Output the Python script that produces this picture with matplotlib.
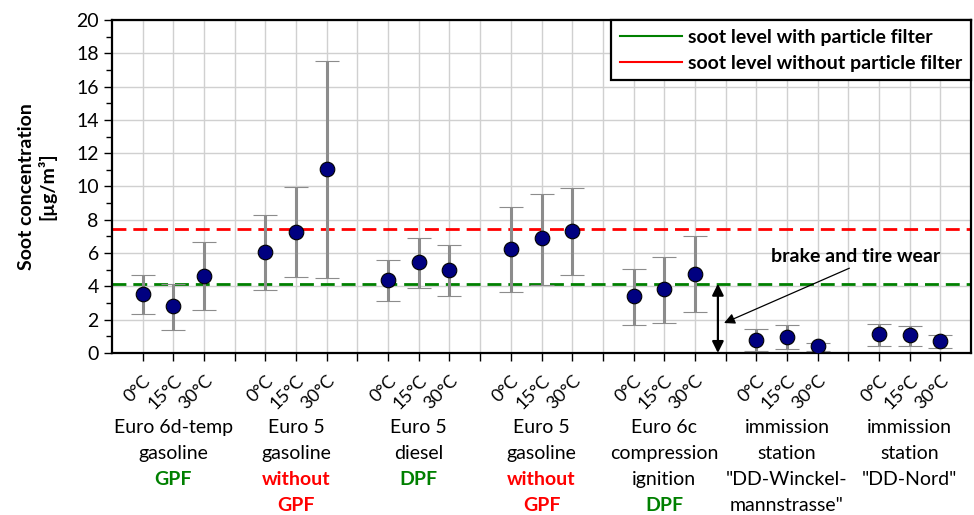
import numpy as np
import matplotlib
matplotlib.use("Agg")
import matplotlib.pyplot as plt
from matplotlib.ticker import MultipleLocator

plt.rcParams['font.family'] = ['Lato', 'DejaVu Sans']

# data (µg/m³)
temps = ["0°C", "15°C", "30°C"]
mean_vals = [3.54, 2.8, 4.64,
             6.06, 7.28, 11.04,
             4.36, 5.44, 4.96,
             6.24, 6.88, 7.3,
             3.4, 3.82, 4.76,
             0.76, 0.96, 0.4,
             1.14, 1.06, 0.72]
upper_vals = [4.7, 4.14, 6.64,
              8.3, 9.96, 17.56,
              5.58, 6.88, 6.46,
              8.76, 9.54, 9.88,
              5.04, 5.78, 7.02,
              1.42, 1.68, 0.58,
              1.76, 1.64, 1.06]
lower_vals = [2.32, 1.36, 2.58,
              3.8, 4.56, 4.5,
              3.1, 3.92, 3.4,
              3.68, 4.1, 4.68,
              1.7, 1.8, 2.46,
              0.12, 0.24, 0.1,
              0.4, 0.4, 0.32]
group_lines = [["Euro 6d-temp", "gasoline"],
               ["Euro 5", "gasoline"],
               ["Euro 5", "diesel"],
               ["Euro 5", "gasoline"],
               ["Euro 6c", "compression", "ignition"],
               ["immission", "station", '"DD-Winckel-', 'mannstrasse"'],
               ["immission", "station", '"DD-Nord"']]
group_tags = [["GPF"], ["without", "GPF"], ["DPF"], ["without", "GPF"], ["DPF"], [], []]
tag_colors = ["green", "red", "green", "red", "green", None, None]
soot_with_filter = 4.16
soot_without_filter = 7.44
wear_x = 19.75

n_groups = len(group_lines)
xpos = np.array([g * 4 + i + 1 for g in range(n_groups) for i in range(3)])
mean_vals = np.array(mean_vals)
yerr = [mean_vals - np.array(lower_vals), np.array(upper_vals) - mean_vals]

fig = plt.figure(figsize=(9.74, 5.15), dpi=100)
ax = fig.add_axes([112 / 974, 1 - 353 / 515, (971 - 112) / 974, 333 / 515])

ax.set_xlim(0, 28)
ax.set_ylim(0, 20)
ax.yaxis.set_major_locator(MultipleLocator(2))
ax.yaxis.set_minor_locator(MultipleLocator(1))
ax.set_xticks(np.arange(1, 28))
ax.set_xticklabels([temps[(i - 1) % 4] if (i % 4) != 0 else "" for i in range(1, 28)],
                   rotation=45, ha='right', va='top', rotation_mode='anchor', fontsize=13)
ax.tick_params(axis='x', direction='out', length=6, width=1, pad=8)
ax.tick_params(axis='y', which='major', direction='out', length=6, width=1, labelsize=14)
ax.tick_params(axis='y', which='minor', direction='out', length=4, width=1)
ax.grid(True, which='major', color='#d0d0d0', linewidth=1)
ax.set_axisbelow(True)
for s in ax.spines.values():
    s.set_linewidth(1.6)

ax.axhline(soot_with_filter, color='green', linestyle=(0, (5, 2.5)), linewidth=2, zorder=2)
ax.axhline(soot_without_filter, color='red', linestyle=(0, (5, 2.5)), linewidth=2, zorder=2)

ax.errorbar(xpos, mean_vals, yerr=yerr, fmt='o', color='#000080', markersize=10.5,
            markeredgecolor='black', markeredgewidth=0.8, ecolor='#8c8c8c',
            elinewidth=2.2, capsize=8.5, capthick=2.2, zorder=3)

# legend
ax.plot([], [], color='green', linewidth=1.5, label='soot level with particle filter')
ax.plot([], [], color='red', linewidth=1.5, label='soot level without particle filter')
leg = ax.legend(loc='upper right', prop={'weight': 'bold', 'size': 14}, fancybox=False,
                framealpha=1, edgecolor='black', borderaxespad=0, handlelength=3.2,
                handletextpad=0.3, borderpad=0.45, labelspacing=0.45)
leg.get_frame().set_linewidth(1.6)

# brake and tire wear marker
ax.annotate('', xy=(wear_x, 0), xytext=(wear_x, soot_with_filter),
            arrowprops=dict(arrowstyle='<|-|>', color='black', lw=1.6,
                            shrinkA=0, shrinkB=0, mutation_scale=17), zorder=4)
ax.annotate('brake and tire wear', xy=(19.95, 1.8), xytext=(27.0, 5.77),
            fontsize=14, fontweight='bold', ha='right', va='center',
            arrowprops=dict(arrowstyle='-|>', color='black', lw=0.9,
                            shrinkA=0, shrinkB=0, mutation_scale=16,
                            relpos=(0.5, 0.0)))

ax.set_ylabel('Soot concentration\n[µg/m³]', fontsize=14, fontweight='bold', labelpad=14)

# group labels below the axis
trans = ax.get_xaxis_transform()
line_y = [-0.225, -0.303, -0.381, -0.459]
for g in range(n_groups):
    cx = g * 4 + 2
    k = 0
    for txt in group_lines[g]:
        ax.text(cx, line_y[k], txt, transform=trans, ha='center', va='center', fontsize=14)
        k += 1
    for txt in group_tags[g]:
        ax.text(cx, line_y[k], txt, transform=trans, ha='center', va='center', fontsize=14,
                fontweight='bold', color=tag_colors[g])
        k += 1

fig.savefig('out.png', dpi=100)
